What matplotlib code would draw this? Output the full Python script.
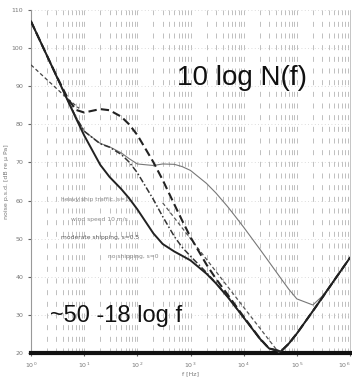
import matplotlib
matplotlib.use("Agg")
import matplotlib.pyplot as plt
from matplotlib.ticker import LogLocator, NullFormatter

# ---- data ----
freq_hz = [1, 2, 3, 5, 7, 10, 20, 30, 50, 70, 100, 200, 300, 500, 700,
           1e3, 2e3, 3e3, 5e3, 7e3, 1e4, 2e4, 3e4, 5e4, 7e4, 1e5, 2e5, 3e5, 5e5, 1e6]
noise_s0 = [107.0, 98.0, 92.7, 86.0, 81.6, 77.1, 69.4, 66.2, 63.0, 60.6, 57.7, 51.4, 48.6,
            46.6, 45.5, 44.3, 40.8, 38.3, 34.7, 32.1, 29.3, 23.8, 21.2, 20.4, 22.4, 25.1,
            31.0, 34.5, 39.0, 45.0]
noise_s05 = [107.0, 98.0, 92.7, 86.1, 81.9, 78.2, 74.9, 74.0, 72.1, 70.1, 67.3, 60.3, 55.8,
             50.5, 47.7, 45.4, 41.1, 38.4, 34.8, 32.1, 29.3, 23.8, 21.2, 20.4, 22.4, 25.1,
             31.0, 34.5, 39.0, 45.0]
noise_s1 = [107.0, 98.0, 92.8, 86.6, 83.8, 83.1, 84.0, 83.7, 82.0, 80.0, 77.2, 70.1, 65.4,
            58.9, 54.7, 50.4, 43.2, 39.5, 35.3, 32.5, 29.5, 23.9, 21.2, 20.4, 22.4, 25.1,
            31.0, 34.5, 39.0, 45.0]
noise_w10 = [107.0, 98.0, 92.7, 86.1, 81.9, 78.2, 75.0, 74.1, 72.5, 71.0, 69.6, 69.2, 69.6,
             69.5, 68.9, 67.9, 64.5, 62.0, 58.4, 55.8, 53.0, 47.3, 43.9, 39.6, 36.8, 34.2,
             32.6, 34.9, 39.0, 45.0]
upper_freq = [1, 2, 5, 8]
upper_db = [95.6, 91.7, 86.6, 84.2]
approx_freq = [300, 1e3, 1e4, 1e5]
approx_db = [59.4, 50.0, 32.0, 14.0]

yticks = [20, 30, 40, 50, 60, 70, 80, 90, 100, 110]
xticks = [1, 1e1, 1e2, 1e3, 1e4, 1e5, 1e6]
xticklabels = [r"$10^{%d}$" % i for i in range(7)]

fig = plt.figure(figsize=(3.52, 3.78), dpi=100)
ax = fig.add_axes([31/352, 25/378, 319/352, 343/378])
ax.set_xscale("log")
ax.set_xlim(1, 1e6)
ax.set_ylim(20, 110)

# grid
ax.xaxis.set_minor_locator(LogLocator(base=10, subs=range(2, 10)))
ax.xaxis.set_minor_formatter(NullFormatter())
ax.grid(True, which="both", axis="x", color="#b4b4b4", linestyle=(0, (6, 8)), linewidth=0.6)
ax.grid(True, which="major", axis="y", color="#d0d0d0", linestyle=(0, (1, 3)), linewidth=0.6)

ax.plot(freq_hz, noise_w10, color="#777777", lw=0.8, zorder=3)
ax.plot(approx_freq, approx_db, color="#555555", lw=0.9, ls=(0, (3, 2)), zorder=3)
ax.plot(upper_freq, upper_db, color="#444444", lw=0.9, ls=(0, (3, 2)), zorder=3)
ax.plot(freq_hz, noise_s05, color="#333333", lw=1.1, ls=(0, (4, 1.5, 1, 1.5)), zorder=4)
ax.plot(freq_hz, noise_s1, color="#222222", lw=1.5, ls=(0, (4, 2)), zorder=4)
ax.plot(freq_hz, noise_s0, color="#222222", lw=1.4, zorder=5)

ax.set_xticks(xticks)
ax.set_xticklabels(xticklabels)
ax.set_yticks(yticks)
ax.tick_params(axis="both", which="major", labelsize=4.5, length=2, color="#666666",
               labelcolor="#777777")
ax.tick_params(axis="x", which="minor", length=0)
ax.get_xticklabels()[-1].set_horizontalalignment("right")

ax.spines["top"].set_visible(False)
ax.spines["left"].set_color("#999999")
ax.spines["left"].set_linewidth(0.8)
ax.spines["right"].set_color("#bbbbbb")
ax.spines["right"].set_linewidth(0.6)
ax.spines["bottom"].set_color("#111111")
ax.spines["bottom"].set_linewidth(3)

ax.set_ylabel("noise p.s.d. [dB re μ Pa]", fontsize=4.5, color="#777777", labelpad=2)
ax.set_xlabel("f [Hz]", fontsize=4.5, color="#777777", labelpad=1)

ax.text(10**3.96, 92.2, "10 log N(f)", ha="center", va="center", fontsize=20,
        family="Liberation Sans", color="#111111", zorder=6)
ax.text(2.3, 29.7, "~50 -18 log f", ha="left", va="center", fontsize=17,
        family="Liberation Sans", color="#111111", zorder=6)

small = dict(fontsize=4.3, color="#888888", ha="left", va="center", zorder=6)
ax.text(3.6, 60.2, "heavy ship traffic, s=1", **small)
ax.text(5.6, 54.9, "wind speed 10 m/s", **small)
ax.text(3.6, 50.2, "moderate shipping, s=0.5", fontsize=4.3, color="#555555",
        ha="left", va="center", zorder=6)
ax.text(28, 45.2, "no shipping, s=0", **small)

fig.savefig("out.png", dpi=100)
